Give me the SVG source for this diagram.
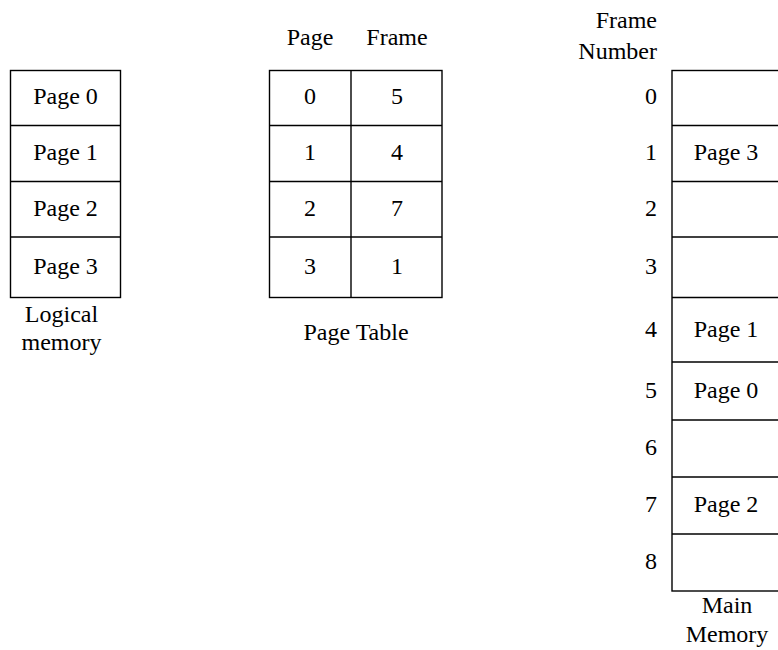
<svg xmlns="http://www.w3.org/2000/svg" width="778" height="650" viewBox="0 0 778 650">
  <style>
    .box { fill: #ffffff; stroke: #000000; stroke-width: 1.4; }
    .rule { stroke: #000000; stroke-width: 1.4; fill: none; }
    .t { font-family: "Liberation Serif", "Times New Roman", serif; font-size: 24px; fill: #000000; }
    .c { text-anchor: middle; }
    .r { text-anchor: end; }
  </style>
  <rect width="778" height="650" fill="#ffffff"/>

  <!-- Logical memory: four pages -->
  <g id="logical-memory">
    <rect class="box" x="10.5" y="70.5" width="110" height="227"/>
    <line class="rule" x1="10.5" y1="125.5" x2="120.5" y2="125.5"/>
    <line class="rule" x1="10.5" y1="181.5" x2="120.5" y2="181.5"/>
    <line class="rule" x1="10.5" y1="237" x2="120.5" y2="237"/>
    <text class="t c" x="65.5" y="104">Page 0</text>
    <text class="t c" x="65.5" y="160">Page 1</text>
    <text class="t c" x="65.5" y="216">Page 2</text>
    <text class="t c" x="65.5" y="274">Page 3</text>
    <text class="t c" x="61.5" y="322">Logical</text>
    <text class="t c" x="61.5" y="350">memory</text>
  </g>

  <!-- Page table: page -> frame -->
  <g id="page-table">
    <text class="t c" x="310" y="45">Page</text>
    <text class="t c" x="397" y="45">Frame</text>
    <rect class="box" x="269.5" y="70.5" width="172.5" height="227"/>
    <line class="rule" x1="351" y1="70.5" x2="351" y2="297.5"/>
    <line class="rule" x1="269.5" y1="125.5" x2="442" y2="125.5"/>
    <line class="rule" x1="269.5" y1="181.5" x2="442" y2="181.5"/>
    <line class="rule" x1="269.5" y1="237" x2="442" y2="237"/>
    <text class="t c" x="310" y="104">0</text>
    <text class="t c" x="397" y="104">5</text>
    <text class="t c" x="310" y="160">1</text>
    <text class="t c" x="397" y="160">4</text>
    <text class="t c" x="310" y="216">2</text>
    <text class="t c" x="397" y="216">7</text>
    <text class="t c" x="310" y="274">3</text>
    <text class="t c" x="397" y="274">1</text>
    <text class="t c" x="356" y="340">Page Table</text>
  </g>

  <!-- Main memory: nine frames -->
  <g id="main-memory">
    <text class="t r" x="657" y="28">Frame</text>
    <text class="t r" x="657" y="59">Number</text>
    <rect class="box" x="672" y="70.5" width="110" height="520.5"/>
    <line class="rule" x1="672" y1="125.5" x2="782" y2="125.5"/>
    <line class="rule" x1="672" y1="181.5" x2="782" y2="181.5"/>
    <line class="rule" x1="672" y1="237" x2="782" y2="237"/>
    <line class="rule" x1="672" y1="297.5" x2="782" y2="297.5"/>
    <line class="rule" x1="672" y1="362" x2="782" y2="362"/>
    <line class="rule" x1="672" y1="420" x2="782" y2="420"/>
    <line class="rule" x1="672" y1="477" x2="782" y2="477"/>
    <line class="rule" x1="672" y1="534" x2="782" y2="534"/>
    <text class="t r" x="657" y="104">0</text>
    <text class="t r" x="657" y="160">1</text>
    <text class="t r" x="657" y="216">2</text>
    <text class="t r" x="657" y="274">3</text>
    <text class="t r" x="657" y="337">4</text>
    <text class="t r" x="657" y="398">5</text>
    <text class="t r" x="657" y="455">6</text>
    <text class="t r" x="657" y="512">7</text>
    <text class="t r" x="657" y="569">8</text>
    <text class="t c" x="726" y="160">Page 3</text>
    <text class="t c" x="726" y="337">Page 1</text>
    <text class="t c" x="726" y="398">Page 0</text>
    <text class="t c" x="726" y="512">Page 2</text>
    <text class="t c" x="727" y="613">Main</text>
    <text class="t c" x="727" y="642">Memory</text>
  </g>
</svg>
